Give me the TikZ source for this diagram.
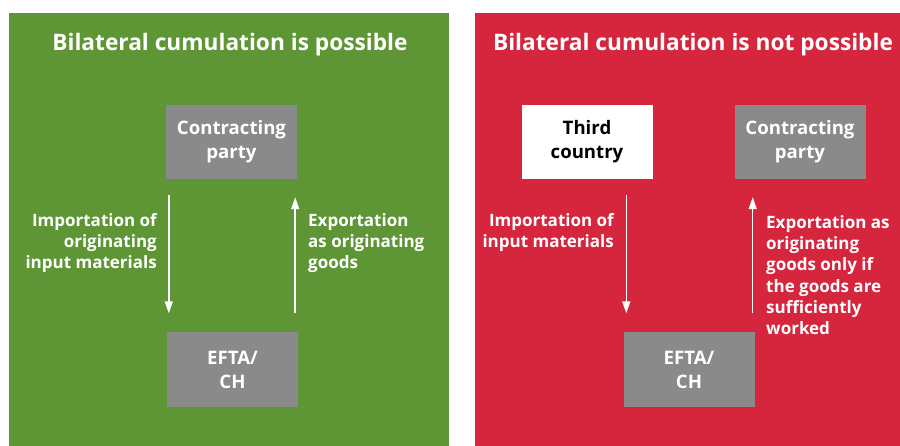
\documentclass[tikz,border=0pt]{standalone}
\usepackage{fontspec}
\setmainfont{Open Sans}
\usetikzlibrary{arrows.meta,calc}
\definecolor{pgreen}{RGB}{94,150,54}
\definecolor{pred}{RGB}{214,38,62}
\definecolor{pgrey}{RGB}{138,138,138}
\begin{document}
\begin{tikzpicture}[x=1pt,y=-1pt,
  titletext/.style={text=white,font=\fontsize{22.7}{26}\selectfont\bfseries,anchor=base,inner sep=0},
  greybox/.style={fill=pgrey,text=white,minimum width=131pt,minimum height=74pt,inner sep=0,align=center,
     font=\fontsize{18.6}{24}\selectfont\bfseries},
  whitebox/.style={greybox,fill=white,text=black},
  lbl/.style={text=white,inner sep=0,font=\fontsize{17}{21.3}\selectfont\bfseries},
  arr/.style={draw=white,line width=1.5pt,-{Triangle[width=8pt,length=12pt]}}]
\useasboundingbox (0,0) rectangle (900,446);
\fill[white] (0,0) rectangle (900,446);
% panels
\fill[pgreen] (9,13) rectangle (449,446);
\fill[pred] (475,13) rectangle (900,446);
% titles
\node[titletext] (t1) at (230,51) {Bilateral cumulation is possible};
\node[titletext] (t2) at (693,51) {Bilateral cumulation is not possible};
% left panel
\node[greybox] (cp1) at (231.5,142) {Contracting\\party};
\node[greybox] (ef1) at (232.5,369.5) {EFTA/\\CH};
\coordinate (a1) at ([xshift=2pt]ef1.north west);
\coordinate (a2) at ([xshift=-3pt]ef1.north east);
\draw[arr,shorten <=16pt,shorten >=19pt] (cp1.south -| a1) -- (a1);
\draw[arr,shorten <=19pt,shorten >=18pt] (a2) -- (cp1.south -| a2);
\node[lbl,align=right,anchor=east] (l1) at (157,243) {Importation of\\originating\\input materials};
\node[lbl,align=left,anchor=west] (l2) at (308,243) {Exportation\\as originating\\goods};
% right panel
\node[whitebox] (tc) at (587,142) {Third\\country};
\node[greybox] (cp2) at (800,142) {Contracting\\party};
\node[greybox] (ef2) at (689,369.5) {EFTA/\\CH};
\coordinate (b1) at ([xshift=3pt]ef2.north west);
\coordinate (b2) at ([xshift=-2pt]ef2.north east);
\draw[arr,shorten <=16pt,shorten >=19pt] (tc.south -| b1) -- (b1);
\draw[arr,shorten <=19pt,shorten >=18pt] (b2) -- (cp2.south -| b2);
\node[lbl,align=right,anchor=east] (l3) at (614,232.5) {Importation of\\input materials};
\node[lbl,align=left,anchor=west] (l4) at (766,275) {Exportation as\\originating\\goods only if\\the goods are\\sufficiently\\worked};
\end{tikzpicture}
\end{document}
